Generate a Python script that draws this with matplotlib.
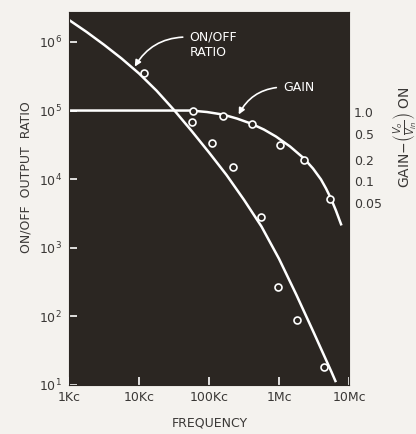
import numpy as np
import matplotlib
matplotlib.use("Agg")
import matplotlib.pyplot as plt
from matplotlib.transforms import blended_transform_factory, offset_copy

# ---------------- data ----------------
# ON/OFF output ratio curve (frequency in c/s)
onoff_freq = [1.0e3, 1.78e3, 3.16e3, 5.62e3, 1.0e4, 1.78e4, 3.16e4, 5.62e4, 1.0e5,
              1.78e5, 3.16e5, 5.62e5, 1.0e6, 1.78e6, 3.16e6, 5.62e6, 6.5e6]
onoff_ratio = [2.09e6, 1.40e6, 9.1e5, 5.75e5, 3.47e5, 1.95e5, 1.02e5, 5.07e4, 2.45e4,
               1.15e4, 5.0e3, 2.04e3, 692, 204, 57, 15.5, 11]
# ON/OFF measured points
onoff_pt_freq = [1.18e4, 5.7e4, 1.1e5, 2.2e5, 5.5e5, 9.7e5, 1.8e6, 4.4e6]
onoff_pt_ratio = [3.5e5, 6.8e4, 3.4e4, 1.5e4, 2.8e3, 270, 89, 18]

# Gain curve (Vo/Vin ON), plotted on the ratio scale with 1.0 -> 1e5
gain_freq = [1.0e3, 5.53e4, 9.4e4, 1.58e5, 2.51e5, 3.98e5, 6.1e5, 9.06e5, 1.44e6,
             2.28e6, 3.06e6, 3.98e6, 4.7e6, 5.53e6, 6.5e6, 7.7e6]
gain_val = [1.0, 1.0, 0.951, 0.874, 0.764, 0.646, 0.528, 0.418, 0.299,
            0.2, 0.143, 0.099, 0.073, 0.052, 0.035, 0.022]
gain_pt_freq = [5.9e4, 1.58e5, 4.1e5, 1.03e6, 2.28e6, 5.35e6]
gain_pt_val = [1.0, 0.846, 0.646, 0.319, 0.193, 0.052]
GAIN_REF = 1e5

x_ticks = [1e3, 1e4, 1e5, 1e6, 1e7]
x_ticklabels = ["1Kc", "10Kc", "100Kc", "1Mc", "10Mc"]
y_ticks = [1e1, 1e2, 1e3, 1e4, 1e5, 1e6]
y_ticklabels = [r"$10^{1}$", r"$10^{2}$", r"$10^{3}$", r"$10^{4}$", r"$10^{5}$", r"$10^{6}$"]
gain_ticks = [1.0, 0.5, 0.2, 0.1, 0.05]
gain_ticklabels = ["1.0", "0.5", "0.2", "0.1", "0.05"]

# ---------------- style ----------------
W, H = 416, 434
DPI = 100
page = "#f4f2ee"
panel = "#2b2622"
ink = "#3a3836"
fs = 9

fig = plt.figure(figsize=(W / DPI, H / DPI), dpi=DPI, facecolor=page)
L, R, T, B = 69, 349, 12, 385
ax = fig.add_axes([L / W, 1 - B / H, (R - L) / W, (B - T) / H])
ax.set_facecolor(panel)
for s in ax.spines.values():
    s.set_color(panel)

ax.set_xscale("log")
ax.set_yscale("log")
ax.set_xlim(1e3, 1e7)
ax.set_ylim(10, 2.73e6)

ax.plot(onoff_freq, onoff_ratio, color="white", lw=1.8, solid_capstyle="butt")
ax.plot(gain_freq, [g * GAIN_REF for g in gain_val], color="white", lw=1.8)
ax.plot(onoff_pt_freq, onoff_pt_ratio, ls="none", marker="o", ms=5,
        mfc=panel, mec="white", mew=1.2)
ax.plot(gain_pt_freq, [g * GAIN_REF for g in gain_pt_val], ls="none", marker="o", ms=5,
        mfc=panel, mec="white", mew=1.2)

ax.set_xticks(x_ticks)
ax.set_xticklabels(x_ticklabels)
ax.set_yticks(y_ticks)
ax.set_yticklabels(y_ticklabels)
ax.minorticks_off()
ax.tick_params(direction="in", length=6, width=1.2, color="white",
               labelcolor=ink, labelsize=fs)
ax.tick_params(axis="x", pad=4)
ax.tick_params(axis="y", pad=5)

# right-hand gain scale labels
trans = blended_transform_factory(ax.transAxes, ax.transData)
offsets = [-3, -4, -3, -3, -5]
for g, lab, off in zip(gain_ticks, gain_ticklabels, offsets):
    t = offset_copy(trans, fig=fig, x=0, y=off, units="dots")
    ax.text(1.018, g * GAIN_REF, lab, transform=t, ha="left", va="center",
            fontsize=fs, color=ink, clip_on=False)

# axis titles
fig.text(26 / W, 1 - 177 / H, "ON/OFF  OUTPUT  RATIO", rotation=90,
         ha="center", va="center", fontsize=fs, color=ink)
fig.text(210 / W, 1 - 423 / H, "FREQUENCY", ha="center", va="center",
         fontsize=fs, color=ink)
fig.text(404 / W, 1 - 137 / H, r"GAIN$-\left(\frac{V_o}{V_{in}}\right)$ ON",
         rotation=90, ha="center", va="center", fontsize=10, color=ink)

# annotations
ax.annotate("ON/OFF\nRATIO", xy=(8.5e3, 4.2e5), xytext=(5.3e4, 9.0e5),
            color="white", fontsize=fs, ha="left", va="center", linespacing=1.25,
            arrowprops=dict(arrowstyle="-|>", color="white", lw=1.2,
                            connectionstyle="arc3,rad=0.3", shrinkA=3, shrinkB=1,
                            mutation_scale=9, relpos=(0.0, 0.78)))
ax.annotate("GAIN", xy=(2.6e5, 8.4e4), xytext=(1.15e6, 2.2e5),
            color="white", fontsize=fs, ha="left", va="center",
            arrowprops=dict(arrowstyle="-|>", color="white", lw=1.2,
                            connectionstyle="arc3,rad=0.3", shrinkA=3, shrinkB=1,
                            mutation_scale=9, relpos=(0.0, 0.5)))

fig.savefig("out.png", dpi=DPI, facecolor=page)
